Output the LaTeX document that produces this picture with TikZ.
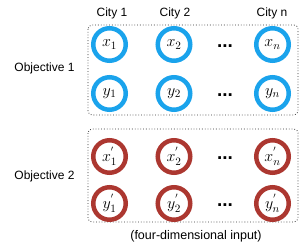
\documentclass[tikz,border=0pt]{standalone}
\usepackage{fix-cm}
\usepackage[no-math]{fontspec}
\setmainfont{Liberation Sans}
\usetikzlibrary{positioning}
\definecolor{cblue}{HTML}{1AA3EC}
\definecolor{cred}{HTML}{AC3730}
\tikzset{
  every picture/.style={font=\fontsize{12}{14}\selectfont},
  city/.style={circle, draw=#1, line width=4.5pt, minimum size=32.5pt, inner sep=0pt, font=\fontsize{16}{18}\selectfont},
  city/.default=cblue,
  group/.style={draw=black!80, dotted, line width=0.8pt, rounded corners=4pt},
  head/.style={font=\fontsize{12}{14}\selectfont},
  dots/.style={anchor=base, font=\fontsize{19}{21}\selectfont\bfseries},
  note/.style={font=\fontsize{12.5}{14}\selectfont},
}
\begin{document}
\begin{tikzpicture}[x=1pt, y=-1pt]
  \useasboundingbox (0,0) rectangle (304,249);
  % column heads
  \node[head] (c1) at (112, 13) {City 1};
  \node[head] (c2) at (175, 13) {City 2};
  \node[head] (cn) at (272, 13) {City n};
  % objective 1
  \draw[group] (88, 25) rectangle (298, 115);
  \node (o1) at (44.5, 68) {Objective 1};
  \node[city] (x1) at (109.5, 44.5) {$x_1$};
  \node[city] (x2) at (174, 44.5) {$x_2$};
  \node[dots] (dx) at (225, 47.5) {...};
  \node[city] (xn) at (272.5, 44.5) {$x_n$};
  \node[city] (y1) at (109.5, 93.5) {$y_1$};
  \node[city] (y2) at (174, 93.5) {$y_2$};
  \node[dots] (dy) at (225, 96.5) {...};
  \node[city] (yn) at (272.5, 93.5) {$y_n$};
  % objective 2
  \draw[group] (88, 129) rectangle (298, 222);
  \node (o2) at (44.5, 176) {Objective 2};
  \node[city=cred] (xp1) at (109.5, 156.5) {$x^{'}_1$};
  \node[city=cred] (xp2) at (174, 156.5) {$x^{'}_2$};
  \node[dots] (dxp) at (225, 159.5) {...};
  \node[city=cred] (xpn) at (272.5, 156.5) {$x^{'}_n$};
  \node[city=cred] (yp1) at (109.5, 203.5) {$y^{'}_1$};
  \node[city=cred] (yp2) at (174, 203.5) {$y^{'}_2$};
  \node[dots] (dyp) at (225, 206.5) {...};
  \node[city=cred] (ypn) at (272.5, 203.5) {$y^{'}_n$};
  \node[note] (in) at (196, 236) {(four-dimensional input)};
\end{tikzpicture}
\end{document}
